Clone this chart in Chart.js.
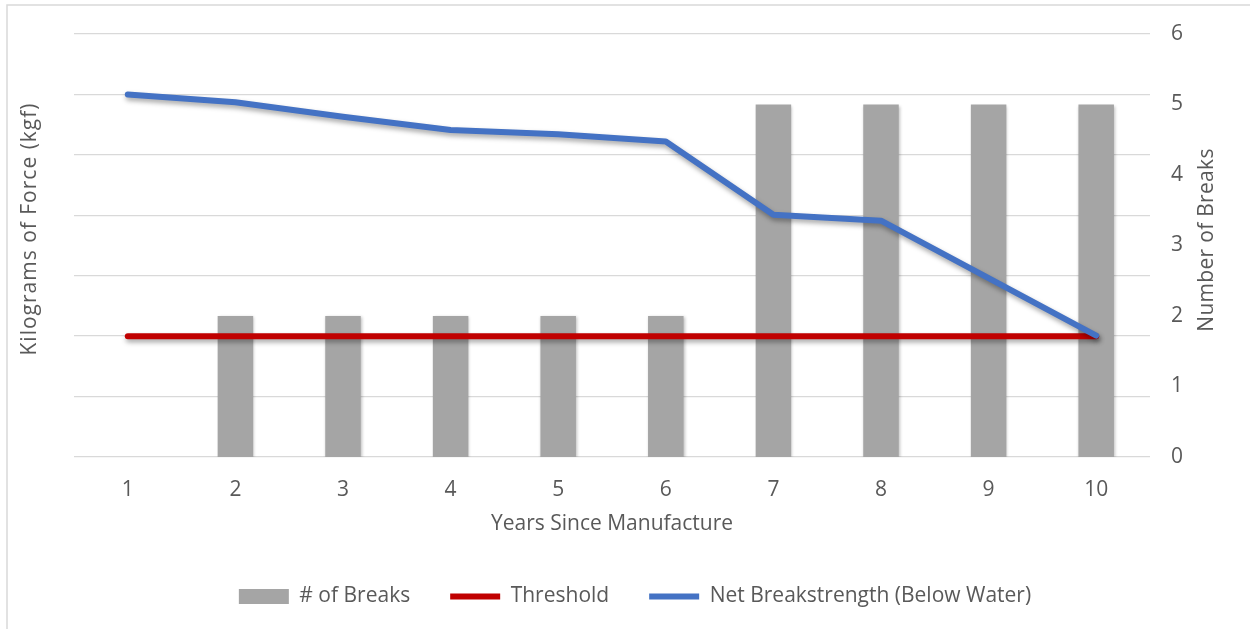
<!DOCTYPE html>
<html>
<head>
<meta charset="utf-8">
<title>Breaks and Net Breakstrength by Year</title>
<script src="https://cdn.jsdelivr.net/npm/chart.js@4/dist/chart.umd.min.js"></script>
<style>
  html, body { margin: 0; padding: 0; background: #ffffff; }
  #wrap { position: relative; width: 1250px; height: 629px; }
</style>
</head>
<body>
<div id="wrap"><canvas id="chart"></canvas></div>
<script>
// Years since manufacture (category axis)
const years = ['1', '2', '3', '4', '5', '6', '7', '8', '9', '10'];
// Number of breaks recorded each year (right axis)
const breaks = [0, 2, 2, 2, 2, 2, 5, 5, 5, 5];
// Minimum acceptable force, kgf (left axis)
const threshold = [20, 20, 20, 20, 20, 20, 20, 20, 20, 20];
// Net breakstrength below water, kgf (left axis)
const netBreakstrength = [60, 58.7, 56.3, 54.1, 53.4, 52.2, 40.1, 39.1, 29.6, 20.1];
// Right axis tick range
const breakTicks = { min: 0, max: 6, step: 1 };
// Left axis gridline range (labels hidden)
const forceTicks = { min: 0, max: 70, step: 10 };

const TEXT = '#595959';
const FONT = '"Open Sans", "DejaVu Sans", sans-serif';

// Page frame and rotated axis titles
const framePlugin = {
  id: 'frame',
  beforeDraw(chart) {
    const ctx = chart.ctx;
    ctx.save();
    ctx.strokeStyle = '#D9D9D9';
    ctx.lineWidth = 1.5;
    ctx.strokeRect(7, 5, 1400, 800);
    ctx.restore();
  },
  afterDraw(chart) {
    const ctx = chart.ctx;
    const drawVertical = (text, x, y, spacing) => {
      ctx.save();
      ctx.translate(x, y);
      ctx.rotate(-Math.PI / 2);
      ctx.font = '21px ' + FONT;
      ctx.letterSpacing = spacing;
      ctx.fillStyle = TEXT;
      ctx.textAlign = 'center';
      ctx.textBaseline = 'middle';
      ctx.fillText(text, 0, 0);
      ctx.restore();
    };
    drawVertical('Kilograms of Force (kgf)', 30, 229, '1px');
    drawVertical('Number of Breaks', 1207, 240, '0.3px');
  }
};

// Soft drop shadow under the bars and lines
const shadowPlugin = {
  id: 'shadow',
  beforeDatasetDraw(chart, args) {
    const ctx = chart.ctx;
    ctx.save();
    if (args.meta.type === 'line') {
      ctx.shadowColor = 'rgba(0,0,0,0.35)';
      ctx.shadowBlur = 5;
      ctx.shadowOffsetX = 1;
      ctx.shadowOffsetY = 3;
    } else {
      ctx.shadowColor = 'rgba(0,0,0,0.25)';
      ctx.shadowBlur = 3;
      ctx.shadowOffsetX = 1;
      ctx.shadowOffsetY = 1;
    }
  },
  afterDatasetDraw(chart) {
    chart.ctx.restore();
  }
};

new Chart(document.getElementById('chart'), {
  type: 'bar',
  data: {
    labels: years,
    datasets: [
      {
        label: '# of Breaks',
        data: breaks,
        yAxisID: 'yBreaks',
        backgroundColor: '#A5A5A5',
        borderWidth: 0,
        barPercentage: 0.33,
        categoryPercentage: 1,
        pointStyle: 'rect',
        order: 3
      },
      {
        type: 'line',
        label: 'Threshold',
        data: threshold,
        yAxisID: 'yForce',
        borderColor: '#C00000',
        backgroundColor: '#C00000',
        borderWidth: 6,
        borderCapStyle: 'round',
        borderJoinStyle: 'round',
        pointRadius: 0,
        pointStyle: 'line',
        tension: 0,
        order: 2
      },
      {
        type: 'line',
        label: 'Net Breakstrength (Below Water)',
        data: netBreakstrength,
        yAxisID: 'yForce',
        borderColor: '#4472C4',
        backgroundColor: '#4472C4',
        borderWidth: 6,
        borderCapStyle: 'round',
        borderJoinStyle: 'round',
        pointRadius: 0,
        pointStyle: 'line',
        tension: 0,
        order: 1
      }
    ]
  },
  options: {
    responsive: true,
    maintainAspectRatio: false,
    devicePixelRatio: 1,
    animation: false,
    layout: { padding: { left: 20, right: 0, top: 34, bottom: 12 } },
    plugins: {
      tooltip: { enabled: false },
      legend: {
        position: 'bottom',
        labels: {
          usePointStyle: true,
          pointStyleWidth: 50,
          boxHeight: 15,
          padding: 40,
          color: TEXT,
          font: { family: FONT, size: 21 },
          sort: (a, b) => a.datasetIndex - b.datasetIndex
        }
      }
    },
    scales: {
      x: {
        grid: { display: false, drawTicks: false },
        border: { display: false },
        ticks: { color: TEXT, padding: 20, font: { family: FONT, size: 21 }, maxRotation: 0 },
        title: {
          display: true,
          text: 'Years Since Manufacture',
          color: TEXT,
          font: { family: FONT, size: 21 },
          padding: { top: 0, bottom: 9 }
        },
        afterFit(scale) { scale.height = 89; }
      },
      yForce: {
        position: 'left',
        min: forceTicks.min,
        max: forceTicks.max,
        ticks: { display: false, stepSize: forceTicks.step },
        grid: { color: '#D9D9D9', lineWidth: 1.3, drawTicks: false },
        border: { display: false },
        afterFit(scale) { scale.width = 54; }
      },
      yBreaks: {
        position: 'right',
        min: breakTicks.min,
        max: breakTicks.max,
        ticks: { stepSize: breakTicks.step, color: TEXT, padding: 21, font: { family: FONT, size: 21 } },
        grid: { display: false, drawTicks: false },
        border: { display: false },
        afterFit(scale) { scale.width = 100; }
      }
    }
  },
  plugins: [framePlugin, shadowPlugin]
});
</script>
</body>
</html>
